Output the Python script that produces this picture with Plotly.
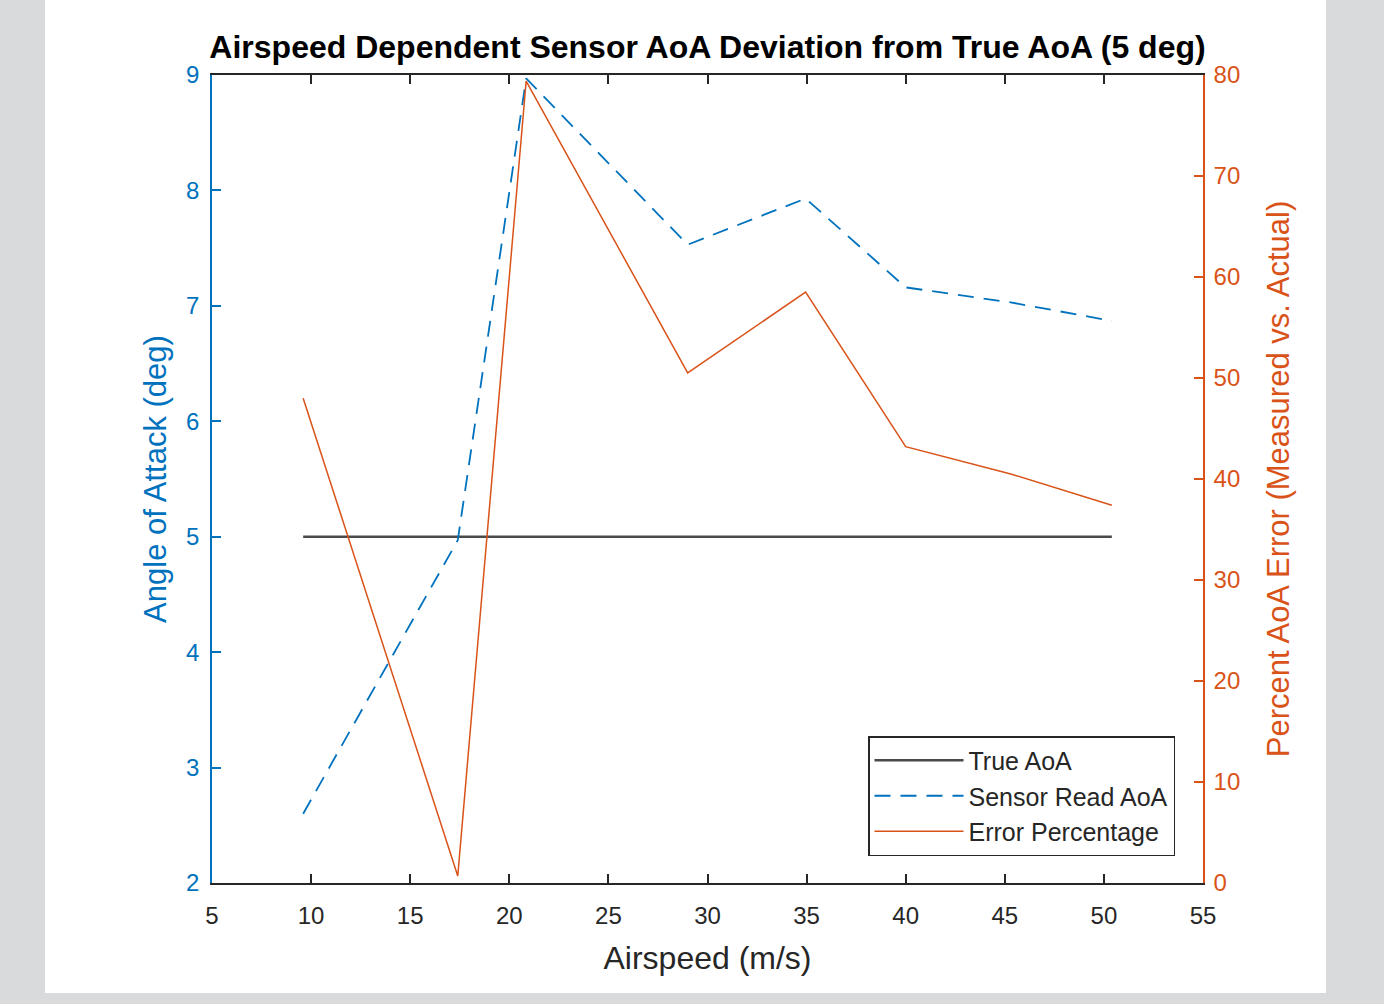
import plotly.graph_objects as go

airspeed = [9.6, 17.4, 20.85, 29.0, 34.95, 40.0, 45.3, 50.4]
true_aoa = [5, 5, 5, 5, 5, 5, 5, 5]
sensor_aoa = [2.6, 4.97, 8.97, 7.53, 7.93, 7.16, 7.03, 6.87]
error_pct = [48.0, 0.7, 79.4, 50.5, 58.5, 43.2, 40.5, 37.4]

BLUE = "#0072BD"
ORANGE = "#D95319"
DARK = "#262626"
FONT = "Liberation Sans, Arial, sans-serif"

fig = go.Figure()
fig.add_trace(go.Scatter(x=airspeed, y=true_aoa, mode="lines", name="True AoA",
                         line=dict(color="#4a4a4a", width=2.5)))
fig.add_trace(go.Scatter(x=airspeed, y=sensor_aoa, mode="lines", name="Sensor Read AoA",
                         line=dict(color=BLUE, width=1.8, dash="16px,10px")))
fig.add_trace(go.Scatter(x=airspeed, y=error_pct, mode="lines", name="Error Percentage",
                         line=dict(color=ORANGE, width=1.5), yaxis="y2"))

L, R, T, B = 212, 181, 75, 121
W, H = 1384, 1004
pw, ph = W - L - R, H - T - B

def px(xp):
    return (xp - L) / pw

def py(yp):
    return (H - B - yp) / ph

fig.add_shape(type="rect", xref="paper", yref="paper",
              x0=px(45), x1=px(1326), y0=py(993), y1=py(0),
              fillcolor="white", line=dict(width=0), layer="below")

fig.update_layout(
    width=W, height=H,
    margin=dict(l=L, r=R, t=T, b=B),
    paper_bgcolor="#d9dadc",
    plot_bgcolor="white",
    font=dict(family=FONT, size=24, color=DARK),
    title=dict(text="<b>Airspeed Dependent Sensor AoA Deviation from True AoA (5 deg)</b>",
               x=0.5, xref="paper", y=1 - 47 / H, yanchor="middle",
               font=dict(family=FONT, size=32, color="black")),
    xaxis=dict(range=[5, 55], dtick=5, tick0=5, showgrid=False, zeroline=False,
               showline=True, linecolor=DARK, linewidth=1.5, mirror="ticks",
               ticks="inside", ticklen=9, tickwidth=1.5, tickcolor=DARK,
               ticklabelstandoff=10,
               tickfont=dict(size=24, color=DARK),
               title=dict(text="Airspeed (m/s)", font=dict(size=32, color=DARK), standoff=19)),
    yaxis=dict(range=[2, 9], dtick=1, showgrid=False, zeroline=False,
               showline=True, linecolor=BLUE, linewidth=1.5,
               ticks="inside", ticklen=9, tickwidth=1.5, tickcolor=BLUE,
               ticklabelstandoff=6,
               tickfont=dict(size=24, color=BLUE),
               title=dict(text="Angle of Attack (deg)", font=dict(size=31, color=BLUE), standoff=10)),
    yaxis2=dict(range=[0, 80], dtick=10, overlaying="y", side="right", showgrid=False,
                zeroline=False, showline=True, linecolor=ORANGE, linewidth=1.5,
                ticks="inside", ticklen=9, tickwidth=1.5, tickcolor=ORANGE,
                ticklabelstandoff=4,
                tickfont=dict(size=24, color=ORANGE),
                title=dict(text="Percent AoA Error (Measured vs. Actual)",
                           font=dict(size=31, color=ORANGE), standoff=28)),
    legend=dict(x=px(1175), y=py(856), xanchor="right", yanchor="bottom",
                bgcolor="white", bordercolor=DARK, borderwidth=1.5,
                font=dict(size=25, color=DARK), itemwidth=89,
                tracegroupgap=0),
    showlegend=True,
)

fig.write_html("out.html", config={"displayModeBar": False},
               post_script="document.body.style.margin='0';document.body.style.background='#d9dadc';")
